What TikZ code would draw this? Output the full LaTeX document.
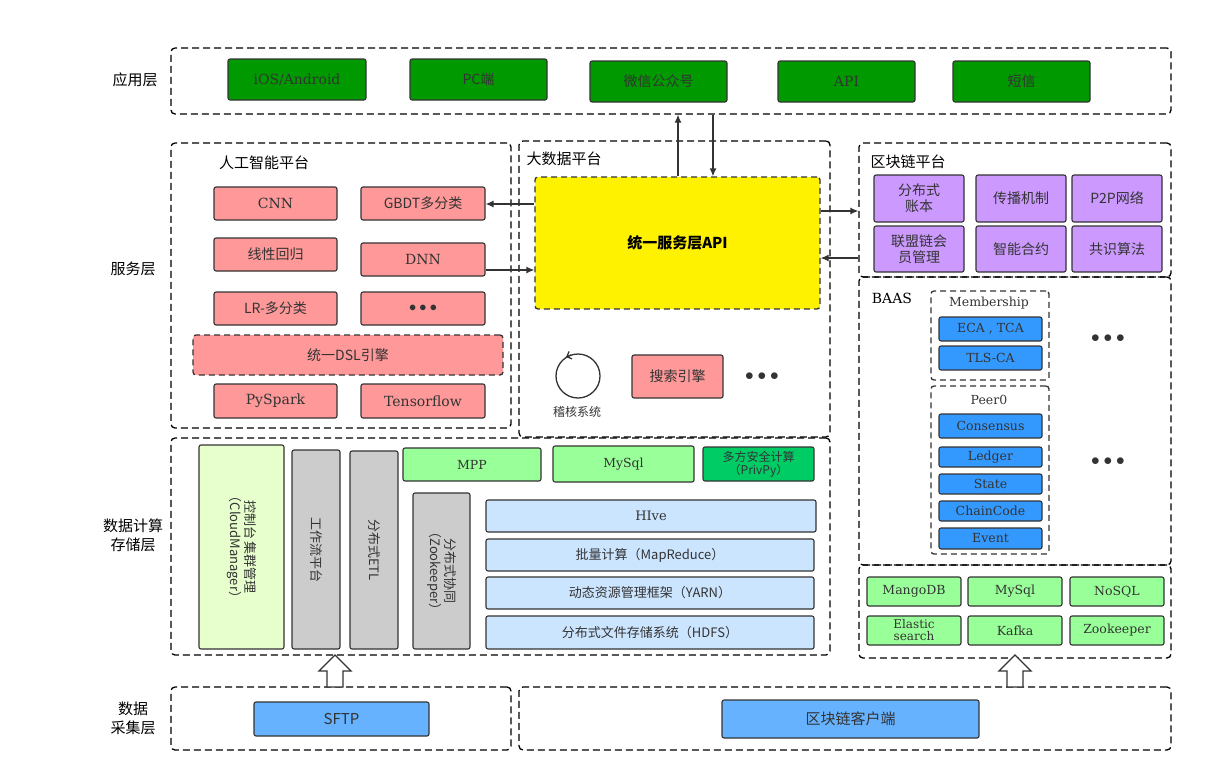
\documentclass[tikz,border=0pt]{standalone}
\usepackage{fontspec}
\setmainfont{Noto Sans CJK SC}
\newfontfamily\lat{DejaVu Serif}
\usetikzlibrary{arrows.meta}
\definecolor{ink}{HTML}{333333}
\tikzset{
  x=1pt, y=-1pt,
  box/.style={draw=ink, line width=1.1pt, rounded corners=2pt, text=ink, align=center, inner sep=1pt, font=\fontsize{14}{16}\selectfont},
  frame/.style={draw=black, line width=1.3pt, dashed, dash pattern=on 7pt off 4pt, rounded corners=4pt},
  sub/.style={draw=ink, line width=1.3pt, dashed, dash pattern=on 6pt off 4pt, rounded corners=3pt},
  lat/.style={font=\lat\fontsize{14}{16}\selectfont},
  small/.style={font=\lat\fontsize{12.5}{14}\selectfont},
  lbl/.style={text=black, font=\fontsize{15}{19}\selectfont, align=center},
  link/.style={draw=ink, line width=1.3pt, -{Latex[length=8pt,width=7pt]}},
  app/.style={box, fill={rgb,255:red,0;green,153;blue,0}},
  ai/.style={box, fill={rgb,255:red,255;green,153;blue,153}},
  bc/.style={box, fill={rgb,255:red,204;green,153;blue,255}},
  peer/.style={box, fill={rgb,255:red,51;green,153;blue,255}, small},
  store/.style={box, fill={rgb,255:red,153;green,255;blue,153}, small},
  grey/.style={box, fill={rgb,255:red,204;green,204;blue,204}},
  hd/.style={box, fill={rgb,255:red,204;green,229;blue,255}, font=\fontsize{13}{15}\selectfont},
  src/.style={box, fill={rgb,255:red,102;green,178;blue,255}, font=\fontsize{15}{17}\selectfont},
  hollow/.style={draw=ink, line width=1.3pt, fill=white}
}
% box by corners: name, x1, y1, x2, y2, style, text
\newcommand\bx[7]{\node[#6, minimum width={(#4-#2)*1pt}, minimum height={(#5-#3)*1pt}] (#1) at ({(#2+#4)/2},{(#3+#5)/2}) {#7};}
\begin{document}
\begin{tikzpicture}
\useasboundingbox (0,0) rectangle (1227,782);

% frames
\bx{appf}{171}{48}{1171}{114}{frame}{}
\bx{aif}{171}{143}{511}{428}{frame}{}
\bx{bdf}{519}{141}{830}{437}{frame}{}
\bx{bcf}{859}{143}{1171}{277}{frame}{}
\bx{baasf}{859}{277}{1171}{565}{frame}{}
\bx{dbf}{859}{565}{1171}{658}{frame}{}
\bx{calcf}{171}{438}{830}{655}{frame}{}
\bx{sftpf}{171}{687}{511}{750}{frame}{}
\bx{clif}{519}{687}{1171}{750}{frame}{}

% layer labels
\node[lbl] (l1) at (135,80) {应用层};
\node[lbl] (l2) at (133,269) {服务层};
\node[lbl] (l3) at (133,535) {数据计算\\存储层};
\node[lbl] (l4) at (133,718) {数据\\采集层};

% application layer
\bx{ios}{228}{59}{366}{100}{app,lat}{iOS/Android}
\bx{pc}{410}{59}{547}{100}{app}{PC端}
\bx{wx}{590}{61}{727}{102}{app}{微信公众号}
\bx{api}{778}{61}{915}{102}{app,lat}{API}
\bx{sms}{953}{61}{1090}{102}{app}{短信}

% AI platform
\node[lbl] (ait) at (264,163) {人工智能平台};
\bx{cnn}{214}{187}{337}{220}{ai,lat}{CNN}
\bx{gbdt}{361}{187}{485}{220}{ai}{GBDT多分类}
\bx{lin}{214}{238}{337}{271}{ai}{线性回归}
\bx{dnn}{361}{243}{485}{276}{ai,lat}{DNN}
\bx{lr}{214}{292}{337}{325}{ai}{LR-多分类}
\bx{aidots}{361}{292}{485}{325}{ai,lat}{$\bullet\bullet\bullet$}
\bx{dsl}{193}{335}{503}{375}{ai,sub}{统一DSL引擎}
\bx{spark}{214}{384}{337}{418}{ai,lat}{PySpark}
\bx{tf}{361}{384}{485}{418}{ai,lat}{Tensorflow}

% big data platform
\node[lbl] (bdt) at (564,159) {大数据平台};
\bx{usl}{535}{177}{820}{309}{box,sub,fill=yellow,font=\bfseries\fontsize{15}{17}\selectfont,text=black}{统一服务层API}
\node[circle, draw=ink, line width=1.3pt, minimum size=44pt, inner sep=0pt] (audit) at (578,376) {};
\draw[ink, line width=1.3pt, -{Straight Barb[length=4pt]}] (571,355) -- (566,357);
\node[text=ink, font=\fontsize{12}{14}\selectfont] (auditt) at (577,412) {稽核系统};
\bx{search}{632}{355}{723}{398}{ai}{搜索引擎}
\node[text=ink, font=\fontsize{16}{16}\selectfont] (bddots) at (762,377) {$\bullet\bullet\bullet$};

% connectors
\draw[link] (usl.north -| 678,0) -- (appf.south -| 678,0);
\draw[link] (appf.south -| 713,0) -- (usl.north -| 713,0);
\draw[link] (usl.west |- 0,204) -- (gbdt.east |- 0,204);
\draw[link] (dnn.east |- 0,270) -- (usl.west |- 0,270);
\draw[link] (usl.east |- 0,211) -- (bcf.west |- 0,211);
\draw[link] (bcf.west |- 0,258) -- (usl.east |- 0,258);

% blockchain platform
\node[lbl] (bct) at (908,162) {区块链平台};
\bx{ledger}{874}{175}{964}{222}{bc}{分布式\\账本}
\bx{prop}{976}{175}{1066}{222}{bc}{传播机制}
\bx{p2p}{1072}{175}{1162}{222}{bc}{P2P网络}
\bx{member}{874}{226}{964}{272}{bc}{联盟链会\\员管理}
\bx{contract}{976}{226}{1066}{272}{bc}{智能合约}
\bx{consalg}{1072}{226}{1162}{272}{bc}{共识算法}

% BAAS
\node[lat, text=black] (baast) at (892,298) {BAAS};
\bx{memf}{931}{291}{1049}{380}{sub}{}
\node[small, text=ink] (memt) at (989,303) {Membership};
\bx{eca}{939}{317}{1042}{341}{peer}{ECA , TCA}
\bx{tls}{939}{346}{1042}{370}{peer}{TLS-CA}
\bx{peerf}{931}{386}{1049}{554}{sub}{}
\node[small, text=ink] (peert) at (989,400) {Peer0};
\bx{cons}{939}{414}{1042}{438}{peer}{Consensus}
\bx{ldg}{939}{447}{1042}{467}{peer}{Ledger}
\bx{state}{939}{474}{1042}{494}{peer}{State}
\bx{chain}{939}{501}{1042}{521}{peer}{ChainCode}
\bx{event}{939}{528}{1042}{549}{peer}{Event}
\node[text=ink, font=\fontsize{16}{16}\selectfont] (dots1) at (1108,339) {$\bullet\bullet\bullet$};
\node[text=ink, font=\fontsize{16}{16}\selectfont] (dots2) at (1108,462) {$\bullet\bullet\bullet$};

% blockchain storage
\bx{mango}{867}{577}{961}{606}{store}{MangoDB}
\bx{mysqlb}{968}{577}{1062}{606}{store}{MySql}
\bx{nosql}{1070}{577}{1164}{606}{store}{NoSQL}
\bx{elastic}{867}{616}{961}{645}{store,font=\lat\fontsize{12}{12}\selectfont}{Elastic\\search}
\bx{kafka}{968}{616}{1062}{645}{store}{Kafka}
\bx{zoo}{1070}{616}{1164}{645}{store}{Zookeeper}

% data compute and storage
\bx{cloud}{199}{445}{284}{649}{box,fill={rgb,255:red,230;green,255;blue,204}}{}
\node[rotate=-90, text=ink, font=\fontsize{13}{15}\selectfont, align=center] (cloudt) at (cloud) {控制台 集群管理\\（CloudManager）};
\bx{flow}{292}{450}{340}{649}{grey}{}
\node[rotate=-90, text=ink, font=\fontsize{13}{15}\selectfont] (flowt) at (flow) {工作流平台};
\bx{etl}{350}{451}{398}{649}{grey}{}
\node[rotate=-90, text=ink, font=\fontsize{13}{15}\selectfont] (etlt) at (etl) {分布式ETL};
\bx{coord}{413}{493}{470}{649}{grey}{}
\node[rotate=-90, text=ink, font=\fontsize{13}{15}\selectfont, align=center] (coordt) at (coord) {分布式协同\\（Zookeeper）};
\bx{mpp}{403}{448}{541}{481}{store}{MPP}
\bx{mysql}{553}{446}{694}{482}{store}{MySql}
\bx{privpy}{703}{447}{814}{481}{box,fill={rgb,255:red,0;green,204;blue,102},font=\fontsize{12}{13}\selectfont}{多方安全计算\\（PrivPy）}
\bx{hive}{486}{500}{816}{532}{hd,lat,font=\lat\fontsize{13}{15}\selectfont}{HIve}
\bx{mr}{486}{539}{814}{571}{hd}{批量计算（MapReduce）}
\bx{yarn}{486}{577}{814}{609}{hd}{动态资源管理框架（YARN）}
\bx{hdfs}{486}{616}{814}{649}{hd}{分布式文件存储系统（HDFS）}

% data collection
\bx{sftp}{254}{702}{429}{736}{src}{SFTP}
\bx{client}{722}{700}{979}{738}{src}{区块链客户端}

% hollow arrows
\draw[hollow] (327,687) -- (327,671) -- (319,671) -- (335,655) -- (351,671) -- (343,671) -- (343,687) -- cycle;
\draw[hollow] (1007,687) -- (1007,671) -- (999,671) -- (1015,655) -- (1031,671) -- (1023,671) -- (1023,687) -- cycle;

\end{tikzpicture}
\end{document}
